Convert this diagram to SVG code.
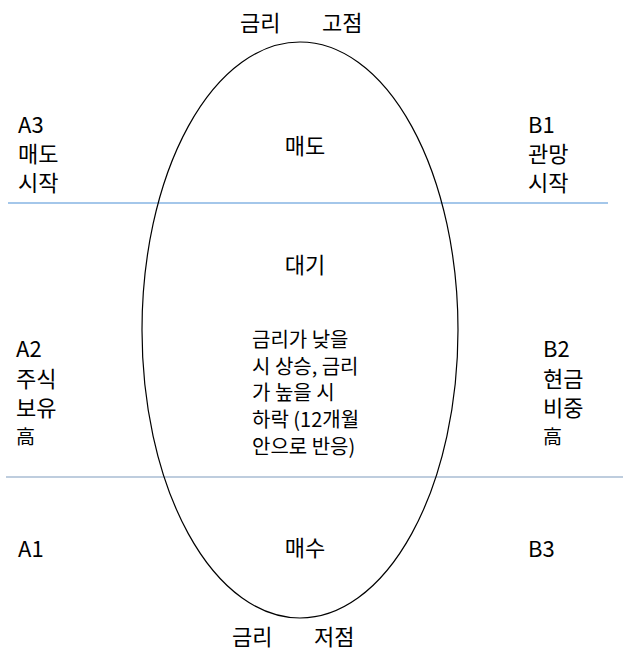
<svg xmlns="http://www.w3.org/2000/svg" width="623" height="666" viewBox="0 0 623 666">
<style>
text{font-family:"Noto Sans CJK KR","Noto Sans",sans-serif;font-size:22px;fill:#000}
.c{text-anchor:middle}
.s{font-size:19px}
.m{font-size:20px}
</style>
<rect width="623" height="666" fill="#fff"/>
<g id="connectors">
<line x1="8" y1="203" x2="608" y2="203" stroke="#4a8fd6" stroke-width="1.2"/>
<line x1="6" y1="477" x2="623" y2="477" stroke="#7e9bbd" stroke-width="1.2"/>
</g>
<g id="ellipse">
<ellipse cx="300" cy="330" rx="158" ry="288" fill="none" stroke="#000" stroke-width="1.2"/>
</g>
<g id="top"><text x="240" y="31">금리</text><text x="322" y="31">고점</text></g>
<g id="bottom"><text x="232" y="645">금리</text><text x="314" y="645">저점</text></g>
<g id="A3"><text x="18" y="133">A3</text><text x="18" y="162">매도</text><text x="18" y="191">시작</text></g>
<g id="B1"><text x="528" y="133">B1</text><text x="528" y="162">관망</text><text x="528" y="191">시작</text></g>
<g id="sell"><text class="c" x="305" y="154">매도</text></g>
<g id="wait"><text class="c" x="305" y="273">대기</text></g>
<g id="desc">
<text class="m" x="252" y="347">금리가 낮을</text>
<text class="m" x="252" y="373.7">시 상승, 금리</text>
<text class="m" x="252" y="400.4">가 높을 시</text>
<text class="m" x="252" y="427.1">하락 (12개월</text>
<text class="m" x="252" y="453.8">안으로 반응)</text>
</g>
<g id="A2"><text x="16" y="357">A2</text><text x="16" y="387">주식</text><text x="16" y="416">보유</text><text class="s" x="16" y="444">高</text></g>
<g id="B2"><text x="543" y="357">B2</text><text x="543" y="387">현금</text><text x="543" y="416">비중</text><text class="s" x="543" y="444">高</text></g>
<g id="A1"><text x="18" y="557">A1</text></g>
<g id="buy"><text class="c" x="305" y="556">매수</text></g>
<g id="B3"><text x="528" y="557">B3</text></g>
</svg>
